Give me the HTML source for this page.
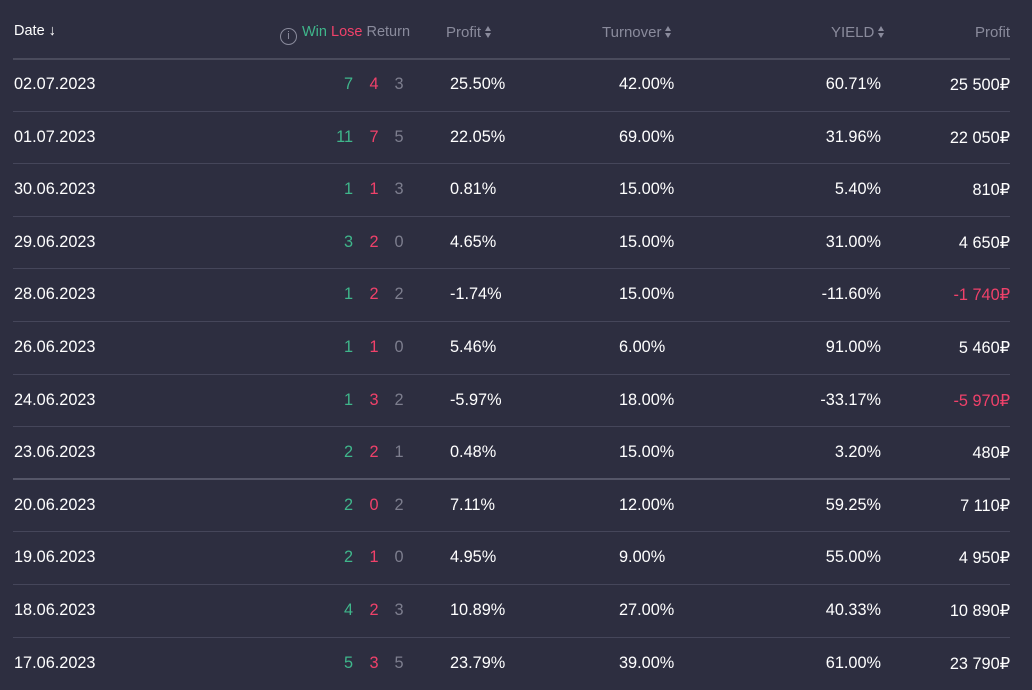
<!DOCTYPE html>
<html><head><meta charset="utf-8"><style>
body{margin:0;width:1032px;height:688px;background:#2d2e40;font-family:"Liberation Sans",sans-serif;overflow:hidden;position:relative}
.h{position:absolute;top:24px;font-size:15px;color:#8a8b9c;white-space:nowrap}
.hl{position:absolute;left:13px;width:997px;top:58px;height:2px;background:#4a4b5c}
.r{position:absolute;left:13px;width:997px;height:52.6px;border-bottom:1px solid #45465a;box-sizing:border-box}
.r.t{border-bottom:2px solid #555668}
.r div{position:absolute;top:16px;font-size:16.3px;color:#fff;white-space:nowrap}
.d{left:1px}
.w{left:310px;width:30px;text-align:right;color:#3fb68b!important}
.l{left:355px;width:12px;text-align:center;color:#f0416a!important}
.x{left:380px;width:12px;text-align:center;color:#7d7e8e!important}
.p{left:437px}
.o{left:606px}
.y{right:129px}
.f{right:0}
.n{color:#f0416a!important}
.s{display:inline-block;width:7px;height:12px;position:relative;vertical-align:-1px;margin-left:4px}
.s:before,.s:after{content:"";position:absolute;left:0;border-left:3.5px solid transparent;border-right:3.5px solid transparent}
.s:before{top:0;border-bottom:5px solid #8a8b9c}
.s:after{bottom:0;border-top:5px solid #8a8b9c}
</style></head><body>
<div class="h" style="left:14px;top:23px;color:#fff;font-size:14.5px">Date ↓</div>
<div class="h" style="left:280px;font-size:14.5px"><span style="display:inline-block;width:17px;height:17px;border:1.3px solid #8a8b9c;border-radius:50%;box-sizing:border-box;text-align:center;font-size:11px;line-height:15px;vertical-align:-3px;margin-right:5px">i</span><span style="color:#3fb68b">Win</span> <span style="color:#f0416a">Lose</span> Return</div>
<div class="h" style="left:446px">Profit<span class="s"></span></div>
<div class="h" style="left:602px">Turnover<span class="s"></span></div>
<div class="h" style="left:831px">YIELD<span class="s"></span></div>
<div class="h" style="right:22px">Profit</div>
<div class="hl"></div>

<div class="r" style="top:59px"><div class="d">02.07.2023</div><div class="w">7</div><div class="l">4</div><div class="x">3</div><div class="p">25.50%</div><div class="o">42.00%</div><div class="y">60.71%</div><div class="f">25 500₽</div></div>
<div class="r" style="top:111.6px"><div class="d">01.07.2023</div><div class="w">11</div><div class="l">7</div><div class="x">5</div><div class="p">22.05%</div><div class="o">69.00%</div><div class="y">31.96%</div><div class="f">22 050₽</div></div>
<div class="r" style="top:164.2px"><div class="d">30.06.2023</div><div class="w">1</div><div class="l">1</div><div class="x">3</div><div class="p">0.81%</div><div class="o">15.00%</div><div class="y">5.40%</div><div class="f">810₽</div></div>
<div class="r" style="top:216.8px"><div class="d">29.06.2023</div><div class="w">3</div><div class="l">2</div><div class="x">0</div><div class="p">4.65%</div><div class="o">15.00%</div><div class="y">31.00%</div><div class="f">4 650₽</div></div>
<div class="r" style="top:269.4px"><div class="d">28.06.2023</div><div class="w">1</div><div class="l">2</div><div class="x">2</div><div class="p">-1.74%</div><div class="o">15.00%</div><div class="y">-11.60%</div><div class="f n">-1 740₽</div></div>
<div class="r" style="top:322px"><div class="d">26.06.2023</div><div class="w">1</div><div class="l">1</div><div class="x">0</div><div class="p">5.46%</div><div class="o">6.00%</div><div class="y">91.00%</div><div class="f">5 460₽</div></div>
<div class="r" style="top:374.6px"><div class="d">24.06.2023</div><div class="w">1</div><div class="l">3</div><div class="x">2</div><div class="p">-5.97%</div><div class="o">18.00%</div><div class="y">-33.17%</div><div class="f n">-5 970₽</div></div>
<div class="r t" style="top:427.2px"><div class="d">23.06.2023</div><div class="w">2</div><div class="l">2</div><div class="x">1</div><div class="p">0.48%</div><div class="o">15.00%</div><div class="y">3.20%</div><div class="f">480₽</div></div>
<div class="r" style="top:479.8px"><div class="d">20.06.2023</div><div class="w">2</div><div class="l">0</div><div class="x">2</div><div class="p">7.11%</div><div class="o">12.00%</div><div class="y">59.25%</div><div class="f">7 110₽</div></div>
<div class="r" style="top:532.4px"><div class="d">19.06.2023</div><div class="w">2</div><div class="l">1</div><div class="x">0</div><div class="p">4.95%</div><div class="o">9.00%</div><div class="y">55.00%</div><div class="f">4 950₽</div></div>
<div class="r" style="top:585px"><div class="d">18.06.2023</div><div class="w">4</div><div class="l">2</div><div class="x">3</div><div class="p">10.89%</div><div class="o">27.00%</div><div class="y">40.33%</div><div class="f">10 890₽</div></div>
<div class="r" style="top:637.6px;border-bottom:none"><div class="d">17.06.2023</div><div class="w">5</div><div class="l">3</div><div class="x">5</div><div class="p">23.79%</div><div class="o">39.00%</div><div class="y">61.00%</div><div class="f">23 790₽</div></div>
</body></html>
